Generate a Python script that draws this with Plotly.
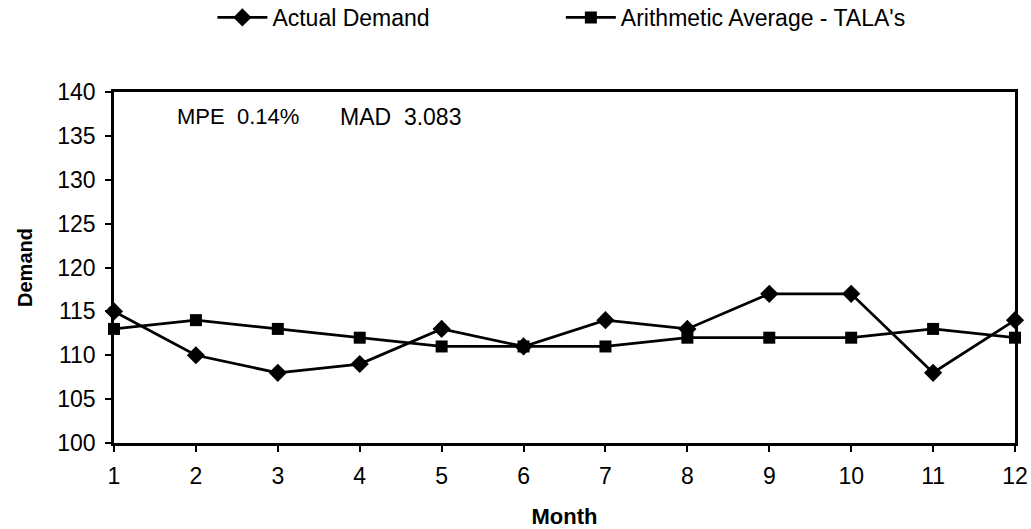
import plotly.graph_objects as go

# Monthly demand and the trailing-average forecast
months = [1, 2, 3, 4, 5, 6, 7, 8, 9, 10, 11, 12]
actual_demand = [115, 110, 108, 109, 113, 111, 114, 113, 117, 117, 108, 114]
tala_average = [113, 114, 113, 112, 111, 111, 111, 112, 112, 112, 113, 112]

y_ticks = [100, 105, 110, 115, 120, 125, 130, 135, 140]

FONT = "Liberation Sans, Arial, sans-serif"
W, H = 1031, 529
L, R, T, B = 114, 16, 92, 86

fig = go.Figure()
fig.add_trace(go.Scatter(
    x=months, y=actual_demand, name="Actual Demand",
    mode="lines+markers", cliponaxis=False, legend="legend",
    line=dict(color="black", width=2.8),
    marker=dict(symbol="diamond", size=14, color="black"),
))
fig.add_trace(go.Scatter(
    x=months, y=tala_average, name="Arithmetic Average - TALA's",
    mode="lines+markers", cliponaxis=False, legend="legend2",
    line=dict(color="black", width=2.8),
    marker=dict(symbol="square", size=12, color="black"),
))

legend_common = dict(
    orientation="h", xref="container", yref="container",
    xanchor="left", yanchor="middle", y=0.967, itemwidth=50,
    font=dict(size=23), bgcolor="rgba(0,0,0,0)",
)

fig.update_layout(
    width=W, height=H,
    margin=dict(l=L, r=R, t=T, b=B, autoexpand=False),
    paper_bgcolor="white", plot_bgcolor="white",
    font=dict(family=FONT, color="black", size=22),
    showlegend=True,
    legend=dict(x=0.206, **legend_common),
    legend2=dict(x=0.544, **legend_common),
    xaxis=dict(
        range=[1, 12], tickvals=months, ticks="outside", ticklen=6,
        tickcolor="black", tickwidth=1.5,
        showline=True, linecolor="black", linewidth=2.5, mirror=True,
        showgrid=False, zeroline=False,
        tickfont=dict(size=23), ticklabelstandoff=5,
        title=dict(text="<b>Month</b>", font=dict(size=22), standoff=22),
    ),
    yaxis=dict(
        range=[100, 140], tickvals=y_ticks, ticks="outside", ticklen=6,
        tickcolor="black", tickwidth=1.5,
        showline=True, linecolor="black", linewidth=2.5, mirror=True,
        showgrid=False, zeroline=False,
        tickfont=dict(size=23), ticklabelstandoff=5,
        title=dict(text="<b>Demand</b>", font=dict(size=20), standoff=20),
    ),
    annotations=[
        dict(text="MPE\u00a0\u00a00.14%", xref="paper", yref="paper",
             x=(175 - L) / (W - L - R), y=0.929, xanchor="left", yanchor="middle",
             showarrow=False, font=dict(size=22)),
        dict(text="MAD\u00a0\u00a03.083", xref="paper", yref="paper",
             x=(338 - L) / (W - L - R), y=0.929, xanchor="left", yanchor="middle",
             showarrow=False, font=dict(size=23)),
    ],
)

fig.write_html("out.html")
